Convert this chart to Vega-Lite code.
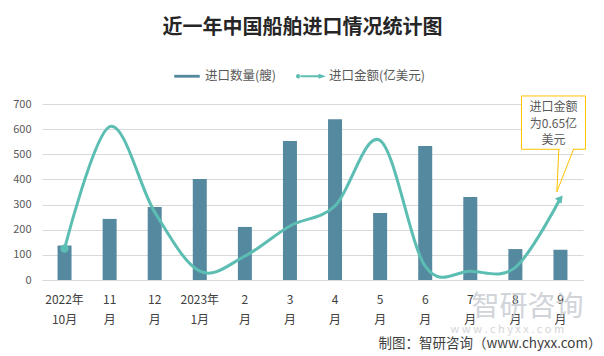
{
  "$schema": "https://vega.github.io/schema/vega-lite/v6.json",
  "width": 541,
  "height": 176,
  "autosize": {"type": "none"},
  "padding": {"left": 42, "top": 104, "right": 21, "bottom": 76},
  "background": "white",
  "title": {
    "text": "近一年中国船舶进口情况统计图",
    "font": "Noto Sans CJK SC",
    "fontSize": 20,
    "fontWeight": "bold",
    "color": "#262626",
    "anchor": "middle",
    "frame": "group",
    "dx": -10,
    "offset": 23
  },
  "datasets": {
    "monthly": [
      {"month": "2022年10月", "qty": 137, "amount": 0.25},
      {"month": "11月", "qty": 243, "amount": 1.22},
      {"month": "12月", "qty": 290, "amount": 0.54},
      {"month": "2023年1月", "qty": 402, "amount": 0.07},
      {"month": "2月", "qty": 211, "amount": 0.19},
      {"month": "3月", "qty": 553, "amount": 0.43},
      {"month": "4月", "qty": 639, "amount": 0.59},
      {"month": "5月", "qty": 266, "amount": 1.11},
      {"month": "6月", "qty": 533, "amount": 0.11},
      {"month": "7月", "qty": 330, "amount": 0.07},
      {"month": "8月", "qty": 123, "amount": 0.10},
      {"month": "9月", "qty": 120, "amount": 0.65}
    ],
    "series": [
      {"series": "进口数量(艘)"},
      {"series": "进口金额(亿美元)"}
    ]
  },
  "encoding": {
    "x": {
      "field": "month",
      "type": "nominal",
      "sort": null,
      "scale": {"paddingInner": 0.2, "paddingOuter": 0.1},
      "axis": {
        "title": "制图：智研咨询（www.chyxx.com）",
        "labelAngle": 0,
        "labelExpr": "indexof(datum.label,'年')>=0 ? [slice(datum.label,0,indexof(datum.label,'年')+1), slice(datum.label,indexof(datum.label,'年')+1)] : [slice(datum.label,0,-1),'月']",
        "labelFont": "Noto Sans CJK SC",
        "labelFontSize": 12,
        "labelColor": "#404040",
        "labelBaseline": "top",
        "labelLineHeight": 19.5,
        "labelPadding": 14.5,
        "ticks": false,
        "domainColor": "#d9d9d9",
        "titleFont": "Noto Sans CJK SC",
        "titleFontSize": 13.5,
        "titleFontWeight": "normal",
        "titleColor": "#404040",
        "titleAnchor": "end",
        "titleAlign": "right",
        "titleBaseline": "alphabetic",
        "titleX": 559,
        "titleY": 67
      }
    }
  },
  "layer": [
    {
      "layer": [
        {
          "data": {"name": "monthly"},
          "mark": {"type": "bar", "width": 14, "color": "#5589a0"},
          "encoding": {
            "y": {
              "field": "qty",
              "type": "quantitative",
              "scale": {"domain": [0, 700]},
              "axis": {
                "title": null,
                "grid": true,
                "gridColor": "#d9d9d9",
                "domain": false,
                "ticks": false,
                "tickCount": 7,
                "labelPadding": 11,
                "labelFont": "Noto Sans CJK SC",
                "labelFontSize": 11,
                "labelColor": "#595959"
              }
            }
          }
        },
        {
          "data": {"values": [{}]},
          "mark": {"type": "text", "text": "智研咨询", "font": "Noto Sans CJK SC", "fontSize": 28, "color": "#c6cad0", "opacity": 0.8, "xOffset": 12, "baseline": "middle"},
          "encoding": {"x": {"datum": "8月"}, "y": {"datum": -111}}
        },
        {
          "data": {"values": [{}]},
          "mark": {"type": "text", "text": "w w w . c h y x x . c o m", "font": "Noto Sans CJK SC", "fontSize": 11, "color": "#d3d6da", "xOffset": -8, "baseline": "middle"},
          "encoding": {"x": {"datum": "8月"}, "y": {"datum": -199}}
        },
        {
          "data": {"values": [{}]},
          "mark": {"type": "bar", "width": 64, "fill": "white", "stroke": "#FFC000", "strokeWidth": 1, "xOffset": -7},
          "encoding": {"x": {"datum": "9月"}, "y": {"datum": 732}, "y2": {"datum": 520}}
        },
        {
          "data": {"values": [{}]},
          "mark": {"type": "rule", "stroke": "white", "strokeWidth": 2, "xOffset": -1, "x2Offset": 12.5},
          "encoding": {"x": {"datum": "9月"}, "x2": {"datum": "9月"}, "y": {"datum": 520}}
        },
        {
          "data": {"values": [{}]},
          "mark": {"type": "rule", "stroke": "#FFC000", "strokeWidth": 1, "xOffset": -1.6, "x2Offset": -3.6},
          "encoding": {"x": {"datum": "9月"}, "x2": {"datum": "9月"}, "y": {"datum": 520}, "y2": {"datum": 351}}
        },
        {
          "data": {"values": [{}]},
          "mark": {"type": "rule", "stroke": "#FFC000", "strokeWidth": 1, "xOffset": 13.1, "x2Offset": -3.6},
          "encoding": {"x": {"datum": "9月"}, "x2": {"datum": "9月"}, "y": {"datum": 520}, "y2": {"datum": 351}}
        },
        {
          "data": {"values": [{}]},
          "mark": {"type": "text", "text": ["进口金额", "为0.65亿", "美元"], "font": "Noto Sans CJK SC", "fontSize": 12, "lineHeight": 16.5, "color": "#595959", "xOffset": -7, "baseline": "middle"},
          "encoding": {"x": {"datum": "9月"}, "y": {"datum": 687}}
        }
      ]
    },
    {
      "layer": [
        {
          "data": {"name": "monthly"},
          "mark": {"type": "line", "interpolate": "cardinal", "tension": 0, "color": "#5cbdb3", "strokeWidth": 3},
          "encoding": {
            "y": {"field": "amount", "type": "quantitative", "scale": {"domain": [0, 1.4]}, "axis": null}
          }
        },
        {
          "data": {"name": "monthly"},
          "transform": [{"filter": "datum.month == '2022年10月'"}],
          "mark": {"type": "point", "shape": "circle", "filled": true, "size": 70, "color": "#5cbdb3", "opacity": 1},
          "encoding": {
            "y": {"field": "amount", "type": "quantitative", "scale": {"domain": [0, 1.4]}, "axis": null}
          }
        },
        {
          "data": {"name": "monthly"},
          "transform": [{"filter": "datum.month == '9月'"}],
          "mark": {"type": "point", "shape": "triangle-up", "filled": true, "size": 70, "angle": 38, "color": "#5cbdb3", "opacity": 1},
          "encoding": {
            "y": {"field": "amount", "type": "quantitative", "scale": {"domain": [0, 1.4]}, "axis": null}
          }
        },
        {
          "data": {"name": "series"},
          "mark": {"type": "point", "filled": true, "opacity": 0},
          "encoding": {
            "x": {"value": 0},
            "y": {"value": 0},
            "color": {
              "field": "series",
              "type": "nominal",
              "scale": {"domain": ["进口数量(艘)", "进口金额(亿美元)"], "range": ["#5589a0", "#5cbdb3"]},
              "legend": {"title": null}
            },
            "shape": {
              "field": "series",
              "type": "nominal",
              "scale": {
                "domain": ["进口数量(艘)", "进口金额(亿美元)"],
                "range": [
                  "M-0.85,-0.095L0.85,-0.095L0.85,0.095L-0.85,0.095Z",
                  "M-1,0A0.15,0.15 0 1,0 -0.7,0A0.15,0.15 0 1,0 -1,0ZM-0.75,-0.065L0.6,-0.065L0.6,0.065L-0.75,0.065ZM0.5,-0.17L1,0L0.5,0.17Z"
                ]
              },
              "legend": {"title": null}
            }
          }
        }
      ]
    }
  ],
  "resolve": {"scale": {"y": "independent"}},
  "config": {
    "view": {"stroke": null},
    "legend": {
      "orient": "none",
      "legendX": 130,
      "legendY": -43,
      "direction": "horizontal",
      "symbolSize": 900,
      "symbolOpacity": 1,
      "symbolStrokeWidth": 0,
      "labelOffset": 3,
      "columnPadding": 20,
      "labelFont": "Noto Sans CJK SC",
      "labelFontSize": 12.5,
      "labelColor": "#595959",
      "padding": 0
    }
  }
}
